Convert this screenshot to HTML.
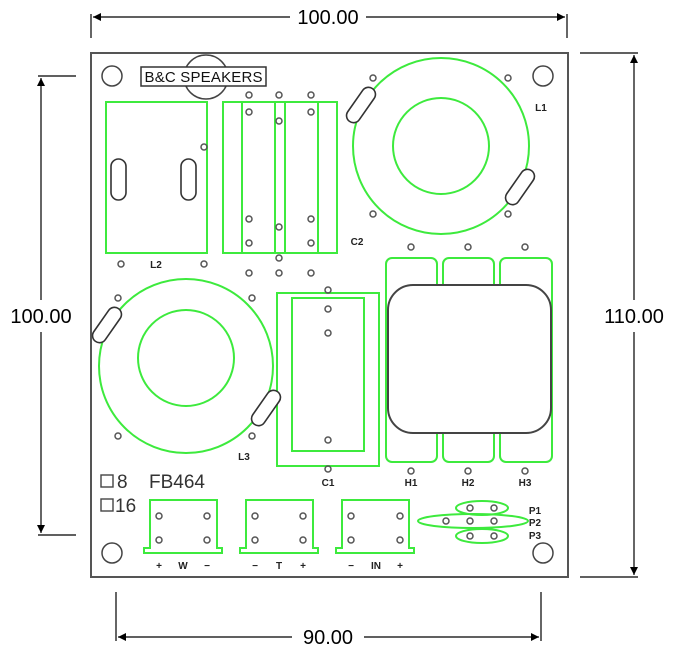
<!DOCTYPE html>
<html><head><style>
html,body{margin:0;padding:0;background:#fff;}
svg{display:block;}
text{font-family:"Liberation Sans",sans-serif;}
</style></head><body>
<svg width="679" height="655" viewBox="0 0 679 655" xmlns="http://www.w3.org/2000/svg">
<defs>
<marker id="ar" viewBox="0 0 10 10" refX="10" refY="5" markerWidth="14" markerHeight="8" orient="auto-start-reverse" markerUnits="userSpaceOnUse"><path d="M0,0 L10,5 L0,10 z" fill="#000"/></marker>
<g id="h"><circle r="3" fill="none" stroke="#555" stroke-width="1.5"/></g>
</defs>
<!-- dimensions -->
<g stroke="#000" stroke-width="1.2" fill="none">
<line x1="91" y1="14" x2="91" y2="38"/><line x1="567" y1="14" x2="567" y2="38"/>
<line x1="93" y1="17" x2="290" y2="17" marker-start="url(#ar)"/><line x1="366" y1="17" x2="565" y2="17" marker-end="url(#ar)"/>
<line x1="38" y1="76" x2="76" y2="76"/><line x1="38" y1="535" x2="76" y2="535"/>
<line x1="41" y1="78" x2="41" y2="300" marker-start="url(#ar)"/><line x1="41" y1="332" x2="41" y2="533" marker-end="url(#ar)"/>
<line x1="580" y1="53" x2="638" y2="53"/><line x1="580" y1="577" x2="638" y2="577"/>
<line x1="634" y1="55" x2="634" y2="300" marker-start="url(#ar)"/><line x1="634" y1="332" x2="634" y2="575" marker-end="url(#ar)"/>
<line x1="116" y1="592" x2="116" y2="641"/><line x1="541" y1="592" x2="541" y2="641"/>
<line x1="118" y1="637" x2="292" y2="637" marker-start="url(#ar)"/><line x1="364" y1="637" x2="539" y2="637" marker-end="url(#ar)"/>
</g>
<g font-size="20" fill="#000">
<text x="328" y="24" text-anchor="middle">100.00</text>
<text x="41" y="323" text-anchor="middle">100.00</text>
<text x="634" y="323" text-anchor="middle">110.00</text>
<text x="328" y="644" text-anchor="middle">90.00</text>
</g>
<!-- board -->
<rect x="91" y="53" width="477" height="524" fill="#fff" stroke="#555" stroke-width="2"/>
<g fill="none" stroke="#444" stroke-width="1.5">
<circle cx="112" cy="76" r="10"/><circle cx="543" cy="76" r="10"/>
<circle cx="112" cy="553" r="10"/><circle cx="543" cy="553" r="10"/>
<circle cx="206" cy="77" r="22"/>
</g>
<rect x="141" y="67" width="125" height="19" fill="#fff" stroke="#333" stroke-width="1.5"/>
<text x="203.5" y="82" font-size="15" text-anchor="middle" fill="#111" textLength="118">B&amp;C SPEAKERS</text>
<g fill="none" stroke="#3dea3d" stroke-width="2">
<!-- L2 -->
<rect x="106" y="102" width="101" height="151"/>
<!-- C2 -->
<rect x="223" y="102" width="114" height="151"/>
<line x1="242" y1="102" x2="242" y2="253"/><line x1="275" y1="102" x2="275" y2="253"/>
<line x1="285" y1="102" x2="285" y2="253"/><line x1="318" y1="102" x2="318" y2="253"/>
<!-- L1 -->
<circle cx="441" cy="146" r="88"/><circle cx="441" cy="146" r="48"/>
<!-- L3 -->
<circle cx="186" cy="366" r="87"/><circle cx="186" cy="358" r="48"/>
<!-- C1 -->
<rect x="277" y="293" width="102" height="173"/>
<rect x="292" y="298" width="72" height="153"/>
<!-- H -->
<rect x="386" y="258" width="51" height="204" rx="6"/>
<rect x="443" y="258" width="51" height="204" rx="6"/>
<rect x="500" y="258" width="52" height="204" rx="6"/>
<!-- connectors -->
<path d="M150,500 H217 V548 H222 V553 H144 V548 H150 Z"/>
<path d="M246,500 H313 V548 H318 V553 H240 V548 H246 Z"/>
<path d="M342,500 H409 V548 H414 V553 H336 V548 H342 Z"/>
<!-- P -->
<ellipse cx="482" cy="508" rx="26" ry="7"/>
<ellipse cx="473" cy="521" rx="55" ry="7"/>
<ellipse cx="482" cy="536" rx="26" ry="7"/>
</g>
<!-- transformer -->
<rect x="388" y="285" width="163" height="148" rx="25" fill="#fff" stroke="#444" stroke-width="2"/>
<!-- slots -->
<g fill="#fff" stroke="#333" stroke-width="1.6">
<rect x="111" y="159" width="15" height="41" rx="7.5"/>
<rect x="181" y="159" width="15" height="41" rx="7.5"/>
<rect x="-7" y="-20" width="14" height="40" rx="7" transform="translate(361,105) rotate(35)"/>
<rect x="-7" y="-20" width="14" height="40" rx="7" transform="translate(520,187) rotate(35)"/>
<rect x="-7" y="-20" width="14" height="40" rx="7" transform="translate(107,325) rotate(35)"/>
<rect x="-7" y="-20" width="14" height="40" rx="7" transform="translate(266,408) rotate(35)"/>
</g>
<!-- holes -->
<g>
<use href="#h" x="204" y="147"/><use href="#h" x="121" y="264"/><use href="#h" x="204" y="264"/>
<use href="#h" x="249" y="95"/><use href="#h" x="279" y="95"/><use href="#h" x="311" y="95"/>
<use href="#h" x="249" y="112"/><use href="#h" x="311" y="112"/><use href="#h" x="279" y="121"/>
<use href="#h" x="249" y="219"/><use href="#h" x="311" y="219"/><use href="#h" x="279" y="227"/>
<use href="#h" x="249" y="243"/><use href="#h" x="311" y="243"/><use href="#h" x="279" y="258"/>
<use href="#h" x="249" y="273"/><use href="#h" x="279" y="273"/><use href="#h" x="311" y="273"/>
<use href="#h" x="373" y="78"/><use href="#h" x="508" y="78"/><use href="#h" x="373" y="214"/><use href="#h" x="508" y="214"/>
<use href="#h" x="118" y="298"/><use href="#h" x="252" y="298"/><use href="#h" x="118" y="436"/><use href="#h" x="252" y="436"/>
<use href="#h" x="328" y="290"/><use href="#h" x="328" y="309"/><use href="#h" x="328" y="333"/><use href="#h" x="328" y="440"/><use href="#h" x="328" y="469"/>
<use href="#h" x="411" y="247"/><use href="#h" x="468" y="247"/><use href="#h" x="525" y="247"/>
<use href="#h" x="411" y="471"/><use href="#h" x="468" y="471"/><use href="#h" x="525" y="471"/>
<use href="#h" x="159" y="516"/><use href="#h" x="207" y="516"/><use href="#h" x="159" y="540"/><use href="#h" x="207" y="540"/>
<use href="#h" x="255" y="516"/><use href="#h" x="303" y="516"/><use href="#h" x="255" y="540"/><use href="#h" x="303" y="540"/>
<use href="#h" x="351" y="516"/><use href="#h" x="400" y="516"/><use href="#h" x="351" y="540"/><use href="#h" x="400" y="540"/>
<use href="#h" x="470" y="508"/><use href="#h" x="494" y="508"/>
<use href="#h" x="446" y="521"/><use href="#h" x="470" y="521"/><use href="#h" x="494" y="521"/>
<use href="#h" x="470" y="536"/><use href="#h" x="494" y="536"/>
</g>
<!-- labels -->
<g font-size="10" font-weight="bold" fill="#222" text-anchor="middle">
<text x="156" y="268">L2</text>
<text x="357" y="245">C2</text>
<text x="541" y="111">L1</text>
<text x="244" y="460">L3</text>
<text x="328" y="486">C1</text>
<text x="411" y="486">H1</text>
<text x="468" y="486">H2</text>
<text x="525" y="486">H3</text>
<text x="535" y="514">P1</text>
<text x="535" y="526">P2</text>
<text x="535" y="539">P3</text>
<text x="159" y="569">+</text><text x="183" y="569">W</text><text x="207" y="569">−</text>
<text x="255" y="569">−</text><text x="279" y="569">T</text><text x="303" y="569">+</text>
<text x="351" y="569">−</text><text x="376" y="569">IN</text><text x="400" y="569">+</text>
</g>
<g fill="none" stroke="#444" stroke-width="1.4">
<rect x="101" y="475" width="12" height="12"/><rect x="101" y="499" width="12" height="12"/>
</g>
<g font-size="19" fill="#333">
<text x="117" y="488">8</text><text x="149" y="488">FB464</text>
<text x="115" y="512">16</text>
</g>
</svg>
</body></html>
